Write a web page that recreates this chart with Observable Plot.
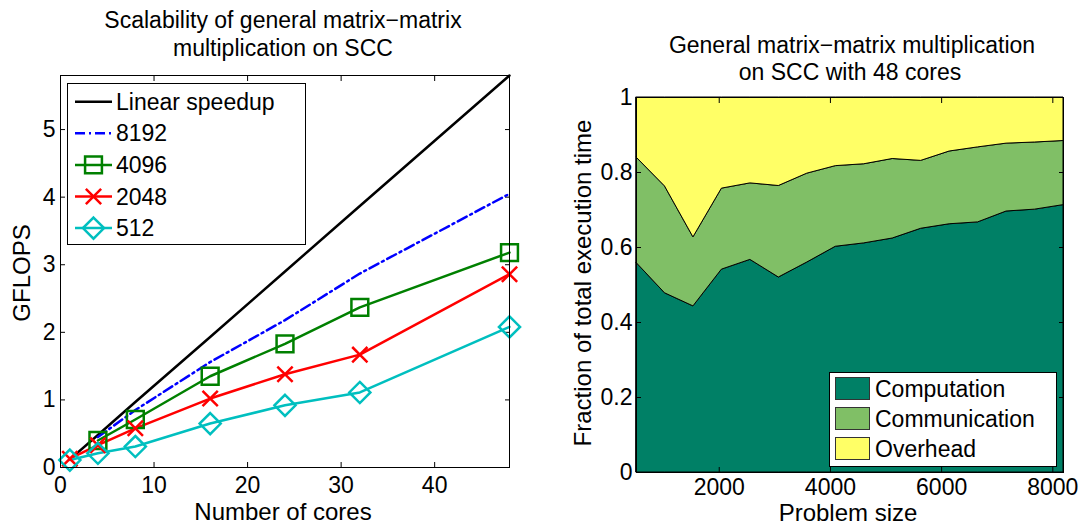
<!DOCTYPE html>
<html><head><meta charset="utf-8">
<script src="https://cdn.jsdelivr.net/npm/d3@7"></script>
<script src="https://cdn.jsdelivr.net/npm/@observablehq/plot@0.6"></script>
<style>
body{margin:0;background:#fff;font-family:"Liberation Sans",Arial,sans-serif;}
#wrap{position:relative;width:1092px;height:525px;overflow:hidden;background:#fff;}
.abs{position:absolute;white-space:nowrap;color:#000;line-height:1;transform:translate(-50%,-50%);}
.rot{transform:translate(-50%,-50%) rotate(-90deg);}
#wrap > svg{position:absolute;top:0;}
</style></head><body><div id="wrap"></div>
<script>
// ---- Left chart data: GFLOPS vs number of cores ----
const coresAll = [1, 4, 8, 16, 24, 32, 48];
const coresFrom4 = [4, 8, 16, 24, 32, 48];
const linearSpeedup = [0.12, 0.48, 0.97, 1.93, 2.90, 3.87, 5.80];
const g8192 = [0.45, 0.85, 1.56, 2.18, 2.87, 4.05];
const g4096 = [0.40, 0.71, 1.35, 1.83, 2.37, 3.18];
const g2048 = [0.13, 0.33, 0.58, 1.02, 1.38, 1.67, 2.86];
const g512 = [0.11, 0.21, 0.31, 0.65, 0.92, 1.11, 2.08];
const speedTicksX = [0, 10, 20, 30, 40];
const speedTicksY = [0, 1, 2, 3, 4, 5];
const seriesNames = ["Linear speedup", "8192", "4096", "2048", "512"];
const seriesColors = ["#000000", "#0000FF", "#008000", "#FF0000", "#00BFBF"];

// ---- Right chart data: fraction of execution time vs problem size ----
const sizes = [512, 1024, 1536, 2048, 2560, 3072, 3584, 4096, 4608, 5120, 5632, 6144, 6656, 7168, 7680, 8192];
const computation = [0.559, 0.478, 0.443, 0.541, 0.567, 0.520, 0.560, 0.602, 0.611, 0.624, 0.650, 0.662, 0.667, 0.696, 0.701, 0.713];
const communication = [0.281, 0.285, 0.184, 0.216, 0.204, 0.244, 0.237, 0.215, 0.211, 0.212, 0.181, 0.194, 0.200, 0.181, 0.179, 0.171];
const overhead = [0.160, 0.237, 0.373, 0.243, 0.229, 0.236, 0.203, 0.183, 0.178, 0.164, 0.169, 0.144, 0.133, 0.123, 0.120, 0.116];
const parts = ["Computation", "Communication", "Overhead"];
const partColors = ["#008066", "#80BF66", "#FFFF66"];
const fracTicksX = [2000, 4000, 6000, 8000];
const fracTicksY = [0, 0.2, 0.4, 0.6, 0.8, 1];

const wrap = document.getElementById("wrap");
const FONT = "'Liberation Sans', Arial, sans-serif";
const plain = d => String(d);
const LW = 2.5;

// build left rows
const toRows = (xs, ys, name) => xs.map((c, i) => ({cores: c, gflops: ys[i], series: name}));
const rLin = toRows(coresAll, linearSpeedup, seriesNames[0]);
const r8192 = toRows(coresFrom4, g8192, seriesNames[1]);
const r4096 = toRows(coresFrom4, g4096, seriesNames[2]);
const r2048 = toRows(coresAll, g2048, seriesNames[3]);
const r512 = toRows(coresAll, g512, seriesNames[4]);

const left = Plot.plot({
  width: 546, height: 525,
  marginLeft: 60, marginRight: 37, marginTop: 75, marginBottom: 58,
  x: {domain: [0, 48]},
  y: {domain: [0, 5.8]},
  style: {fontFamily: FONT, fontSize: "23px", background: "transparent", overflow: "visible"},
  marks: [
    Plot.axisX(speedTicksX, {anchor: "bottom", tickSize: -5, tickPadding: 14, label: null, tickFormat: plain}),
    Plot.axisX(speedTicksX, {anchor: "top", tickSize: -5, tickFormat: () => "", label: null}),
    Plot.axisY(speedTicksY, {anchor: "left", tickSize: -5, tickPadding: 10, label: null, tickFormat: plain}),
    Plot.axisY(speedTicksY, {anchor: "right", tickSize: -5, tickFormat: () => "", label: null}),
    Plot.line(rLin, {x: "cores", y: "gflops", stroke: seriesColors[0], strokeWidth: LW}),
    Plot.line(r8192, {x: "cores", y: "gflops", stroke: seriesColors[1], strokeWidth: LW, strokeDasharray: "10,4,2,4"}),
    Plot.line(r4096, {x: "cores", y: "gflops", stroke: seriesColors[2], strokeWidth: LW}),
    Plot.line(r2048, {x: "cores", y: "gflops", stroke: seriesColors[3], strokeWidth: LW}),
    Plot.line(r512, {x: "cores", y: "gflops", stroke: seriesColors[4], strokeWidth: LW}),
    Plot.dot(r4096, {x: "cores", y: "gflops", symbol: "square", r: 9.5, stroke: seriesColors[2], strokeWidth: LW, fill: "none"}),
    Plot.dot(r2048, {x: "cores", y: "gflops", symbol: "times", r: 7, stroke: seriesColors[3], strokeWidth: LW, fill: "none"}),
    Plot.dot(r512, {x: "cores", y: "gflops", symbol: d3.symbolDiamond2, r: 9.5, stroke: seriesColors[4], strokeWidth: LW, fill: "none"}),
    Plot.frame({stroke: "black", strokeWidth: 1})
  ]
});
left.style.left = "0px";
wrap.appendChild(left);

// right chart rows
const partVals = [computation, communication, overhead];
const areaRows = [];
parts.forEach((p, j) => sizes.forEach((s, i) => areaRows.push({size: s, part: p, value: partVals[j][i]})));

const right = Plot.plot({
  width: 546, height: 525,
  marginLeft: 90, marginRight: 29, marginTop: 97, marginBottom: 53,
  x: {domain: [512, 8192]},
  y: {domain: [0, 1]},
  color: {domain: parts, range: partColors},
  style: {fontFamily: FONT, fontSize: "23px", background: "transparent", overflow: "visible"},
  marks: [
    Plot.areaY(areaRows, {x: "size", y: "value", fill: "part", stroke: "black", strokeWidth: 1}),
    Plot.axisX(fracTicksX, {anchor: "bottom", tickSize: -5, tickPadding: 11, label: null, tickFormat: plain}),
    Plot.axisX(fracTicksX, {anchor: "top", tickSize: -5, tickFormat: () => "", label: null}),
    Plot.axisY(fracTicksY, {anchor: "left", tickSize: -5, tickPadding: 9, label: null, tickFormat: plain}),
    Plot.axisY(fracTicksY, {anchor: "right", tickSize: -5, tickFormat: () => "", label: null}),
    Plot.frame({stroke: "black", strokeWidth: 1})
  ]
});
right.style.left = "546px";
wrap.appendChild(right);

// text labels
function label(text, x, y, size, rot) {
  const d = document.createElement("div");
  d.className = "abs" + (rot ? " rot" : "");
  d.textContent = text;
  d.style.left = x + "px"; d.style.top = y + "px"; d.style.fontSize = size + "px";
  wrap.appendChild(d);
}
label("Scalability of general matrix\u2212matrix", 283, 20, 23);
label("multiplication on SCC", 283, 48, 23);
label("General matrix\u2212matrix multiplication", 852, 45, 23);
label("on SCC with 48 cores", 850, 72, 23);
label("Number of cores", 283, 512, 24);
label("GFLOPS", 22, 273, 24, true);
label("Problem size", 848, 513, 24);
label("Fraction of total execution time", 583, 283, 24, true);

// left legend
{
  const W = 239, H = 162;
  const svg = d3.create("svg").attr("width", W).attr("height", H)
    .style("position", "absolute").style("left", "67px").style("top", "83px");
  svg.append("rect").attr("x", 0.5).attr("y", 0.5).attr("width", W - 1).attr("height", H - 1)
    .attr("fill", "white").attr("stroke", "black");
  const syms = [null, null, d3.symbolSquare, d3.symbolTimes, d3.symbolDiamond2];
  const rs = [0, 0, 9.5, 7, 9.5];
  seriesNames.forEach((name, i) => {
    const cy = 18.7 + i * 31.6;
    svg.append("line").attr("x1", 8).attr("x2", 45).attr("y1", cy).attr("y2", cy)
      .attr("stroke", seriesColors[i]).attr("stroke-width", LW)
      .attr("stroke-dasharray", i === 1 ? "10,4,2,4" : null);
    if (syms[i]) {
      svg.append("path").attr("d", d3.symbol(syms[i], Math.PI * rs[i] * rs[i])())
        .attr("transform", `translate(26.5,${cy})`).attr("fill", "none")
        .attr("stroke", seriesColors[i]).attr("stroke-width", LW);
    }
    svg.append("text").attr("x", 49).attr("y", cy).attr("dy", "0.35em")
      .attr("font-family", FONT).attr("font-size", 23).text(name);
  });
  wrap.appendChild(svg.node());
}

// right legend
{
  const W = 228, H = 95;
  const svg = d3.create("svg").attr("width", W).attr("height", H)
    .style("position", "absolute").style("left", "829px").style("top", "372px");
  svg.append("rect").attr("x", 0.5).attr("y", 0.5).attr("width", W - 1).attr("height", H - 1)
    .attr("fill", "white").attr("stroke", "black");
  parts.forEach((p, i) => {
    const top = 5 + i * 30;
    svg.append("rect").attr("x", 6.5).attr("y", top + 0.5).attr("width", 34).attr("height", 22)
      .attr("fill", partColors[i]).attr("stroke", "#333");
    svg.append("text").attr("x", 46).attr("y", top + 12).attr("dy", "0.35em")
      .attr("font-family", FONT).attr("font-size", 23).text(p);
  });
  wrap.appendChild(svg.node());
}
</script>
</body></html>
